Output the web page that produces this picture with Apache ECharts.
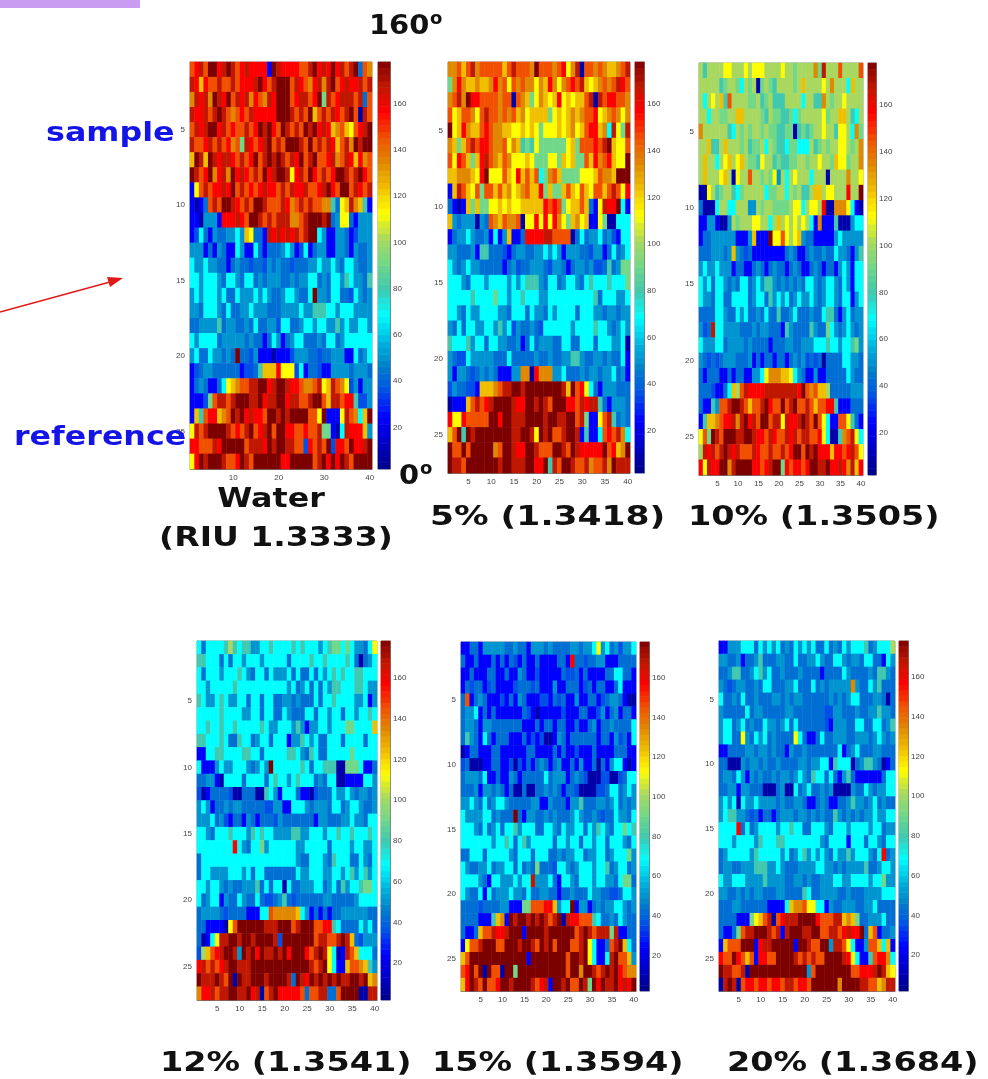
<!DOCTYPE html>
<html>
<head>
<meta charset="utf-8">
<title>Phase maps</title>
<script src="https://cdn.jsdelivr.net/npm/echarts@6/dist/echarts.min.js"></script>
<style>
html,body{margin:0;padding:0;background:#fff;}
#panels,#notes{position:absolute;left:0;top:0;width:988px;height:1079px;}
#panels{filter:blur(0.7px);}
</style>
</head>
<body>
<div id="panels"></div>
<div id="notes"></div>
<script>
// one letter per cell; levels gives its value in degrees
const levels = {N:8,B:24,M:35,S:42,T:50,C:68,U:79,G:90,L:101,Y:112,O:123,A:134,P:145,R:156,D:167,K:178};
const water = [
"PRDPKKRDKD PRDRRRRBKD RRRRPPDKRD RKRDPDKSPA",
"DRORPPDPPD PRRRDKRPDK KKPDRPARDA DKPRDRRDPD",
"ADRDAKDRKP DRDARPADRK KKPRDDPRKG DPRDDDPDSP",
"DRRDPDKDPA PRPDRRRRRK KKDPDPKOPD PDRPDKPNDP",
"PDRDKKRDPR PPDPRKDKRP KDPDPKDKRD ROAPOYPRDK",
"DPPRDPDPRA PGDRPRDKPD PKKKDPKPDP DROPDAKDKK",
"OKDOKDRDDR PDPRKPDKDK DPDRKPDKPP RDAPDRORAP",
"KDPRKARDAK RDRPDPKRDK KDYRDPKRPD PRKKDPDKRP",
"BYPDPRRDRK PDPRPRDRRP DPDRRDPPRD KRPKKPDRPD",
"BNBSPDPKKD RPDPKKDPPP DRAPDPDPPA AUSYODAOUB",
"BBNTTTBRRR DRPKKDPDPD DDAAPDKKKD KSTYYSBTTT",
"BMCSBTSSTT CTOYSSBDRD RDRDPDKKCT BBTTSBMTTT",
"TTTBSBTSBB CTBBCSBSSS TCTBMCBSTT BBTTSBTSST",
"CTTCTTSSBS TSSMSSMTST SSMSSSTTCT TCTSCCTSST",
"CCTCCCTSCC TSCCSTSTTT SSTSTTCCST SCCTUCTTSU",
"TCTCCCTCSS CTTTCTCTSS TCCTSSCKTT SCCSSMCTST",
"TTSCCCTSCS STTCTTTSSS TTTTCTTUUU CCTCCCTTTT",
"SSTTTTUSTT SSTSCSSTTM CCSSTCCTCC TTUTCTTCCT",
"CTCCCCSTTT TTSTSSBSCT BSTCCSSSTS CCSTCCCCCC",
"TCSSCTTSTS KSSMTBBBNB BBMTTTSSMS STTTBBCSTC",
"BMSTTSSSSS SBMMSUOOOR YYYMCBSSMB BTTTTSTTTS",
"BSTSBBSCYO APPDDKKRDK KDRRPAAPDY ODPAYMTBTT",
"BBBMGPDDPD KKKDDKRDDK KRDDPPDKKP ODDPRRUMMT",
"BOUPRROAPK DKRDRRPKKD KDKKKKPPYK BBBYDPACOK",
"YDPDKKKKDP RPDKPRDKPK KRRPPRPPDG GBNCDRRROT",
"RRPPPDRKKK KKPDDDRKDK KDDPPMRPDP KMRRPKRRDK",
"YRKDKKKDPP RKDPKKKKKK RRKKKKKPDK RKRKDPKKKK"
];
const pct5 = [
"AAPOPDAPPP PPOPDPPPAK PPPAPRYADN PPAPAOOAPD",
"GARAOOAOOA RAPYPAPAAY AORAYAPRPD OYOAPAPDRP",
"APDAKRRPPP PAPPNPAOGY AOYORYOYOO PDNDPRRPPA",
"PYOPPAYPDP PAPAPOAYOO OOGYOYOAOA PPRYOAPAYA",
"KYORAOOPRP AAOOYYOYOY GYYYOYOAYO PRROACDYGD",
"AOGOPDPRRP AAPYAOUGUY GGGGGGYOGP PPRPDKOYYP",
"PYRPOGORDP AOPAYYYOYG GGYYGOYOGG PORAPROYYK",
"OOAAAOYRKY YYPOYROPOP CGAPOGGGGY YYOPAAOKKK",
"BODPOYPGPP OPOAYOAPOO RGOGGOPOYP OYPPOPDPYR",
"SBNBOGOGGY YOYOYYOOOO ORPRPGYOOP OSBYDRRKCB",
"OTSTTTNTSP AOPAAPNYYR YRYRAYGOAY OBBYGNNCCC",
"BSTTCTSSTB CBTOBBSRRR RDDPPPPNSC STTCSTMBCC",
"TTSSSTBUUS SSMBSTTSST TCTCTBTTTS SMTTBSCSTC",
"CTSTCTTSSS SSBSTMSSTT TSMTTSBSTT STMMSUSTGG",
"CCCTSCCCTC CCCTCTCUUU TSCCSTCCTS CUCCCUCCCG",
"CCCCCUCCCC GCCTCCUCCC TTCCCCCCCC CCUSCCCTTC",
"CCTSCTTCCC CTTSCCCSCT TSCTCCCCSC CCTTSTTSTT",
"TSCSCCTTCC TUTCMTSSTS MCCCCCCTCC CCUCCTSTCT",
"UCCCUTCCSC CTTSSTBSCS TTTSSCCSSC CCSCCCTTCN",
"TSMMCTTTTT SSSCSSSSST SSTSSTTUUT SSTTSTSSCB",
"TBTTSMSTST SBBBTTAANR AAATTCSSST STTSTTCSTB",
"MTSSMMBOOO APDDKKDKKK KKKKKDOKPR YCSBTTTSSS",
"NBBBOPDPRD KKKKDRRKKD KDPKKKRRPD RDDUSBTTTS",
"RYYRPPPPPK KRKKDDDKKK KDKKDDKKPD GBBYPDUSTS",
"OPKUKDKKKK KKKKDDKKDY KDKPPDKKDB UBBCPRPDAC",
"KPPKPKKKKK APKKDRRKKD PPPKKDPKDR RRRRKPROAK",
"KDDPKKKKKK KDKKDDDKKR RKUDPKKDPP DAPPDAKDDD"
];
const pct10 = [
"LULLLLYYLL LYLYYYLLLL YLLGLLLLAG DLLLPLLLLP",
"LLLLLUGLLG CLGLNGLGUL LLLGLOLLLL YLALLLCOLL",
"LCLYLOUPLL LLGGLUGLUU ULLLLCLLUU ALGLLYLLLL",
"LLCLLGGLLO OLLLLGULGG UUGCGLLLLL YGLLOOLUCL",
"ALLLLLLUCL GLGLLGLGGU UGGNUGUGLL YLLUYYLCAG",
"LLOUULOLLL GLUGGLCLGU UCGGCCCLUG LGLLYYLGLA",
"LOLLCLYOLY OLGGUYLLUG UUGGLLGLLY LLGOYYGLLA",
"LOLLLYOLNY LLPLLGLGYT LCLYLLLCLL LNLLLLALLY",
"NNYLUGLLUC GLLLLLCGGL LCLGLUULOO LYYLLLRLLK",
"SNNNCLLCCL LLTTLGLLGG GGLYYCLYYL RNNAAAYCBN",
"BBTTBNNTLG LLLYYLLCLO LYLYLYLCBA BBBUNNNTCC",
"BSSTTTTTTB BBTOBBBKYY PYLYOTSSBB BBBTCTTTTT",
"SSSTTTSTOT SMSBBBBBBB BSTSBBSTSS TSSCTTSBTU",
"TCTTCTTTBS SBBSTSBSTS SBSTSBBSTS BSSBTCTBCC",
"CTCSCCTSTS CCSTCTUUTS TSTSTSCCTS TCCTSCTBCC",
"CTTSCCSSCC CCSTCCSUTC TCSTCTTCTS TCCTSCCBTC",
"SSSSCCTSSC TCSSTSCSSU SSTCSSSTSS CUUSBTCSTT",
"TMSDCCTTTT SSSTSTTSSS BUTSSSSUTS SGCTSTCTST",
"CTTTCCSTTT TSTSSSSBSS STTSSTTTCC CUCCTCCUGT",
"TSMSMSTTTS SSTBSBSSBS SBSTSTMSMS NSSSSCCTTS",
"SBSSSBBSBS SBBTTCYAAA OOYCTSBBTB BSSSSSCTSS",
"SSSMBBSCOL PDRRRRDDDD DDDDRKPAPO OLSSSSSTTT",
"SBBUTPPDKK DPOPPDKRPP KPDKPPDPOP PRRUBBBSSS",
"BUOOAPRRDA DKRDPKKPDD YDRRDKDPKP YCBBPPYUSB",
"YPGKDPKKKD DKKDRRPDRP PDRDPDDPPR YCNNUAPDYC",
"LDRDPDKDRD PPPDRPPDPP DPRKKPKDKR RRORRPRDPY",
"RYDRRKKADK KKKRRPRDKK GRPRRPRKKD DKRRDRADOR"
];
const pct12 = [
"CSCCCCULUC UUTTCCUCCC CUCUCCCTCU GGCGCTTSCY",
"UUCCCSCSCC TCCCTCCCCC SCCCCUCCUC CCCUCSNSTC",
"CSCCCTCCCU CTSCCSCTTT CSCSSCSCTC UCUCCUUCCC",
"CCTCCCCCUC CCCCCCCCCC TCSTCSCSCT UUCCCUUCTT",
"UCTTCUCTTC CSCCSCCSST TSTSSSCSCC UCCCCTTCBT",
"CCCCCUCCCC TTCCSCCSSC TSSSCCSCCT CCSCCTCCUC",
"CCUCCUCCUC CCCCUCTTCC CTUTBTTCCT CCCGGCCCCO",
"UUCCCUCSSU CCSTCCSCCC BTTUCTCSSC CCSCCCCSCC",
"BBCCUUCCCC UUCCSCCCCC UUCTSUCSSC CCCCGCCCCC",
"CBBBTCTTCC CTSTCTKCCC CCCUCSCCUU UNNGGGCBBS",
"SSTTBNCCCC SCCCCSCUCC TCUCCCSTSC CNNBBBBCCT",
"MNBSSSSMNN SSSNNUCTBC CCSBBNMSSS CTTCTSTTST",
"TCTBSSTSTT SSSSSMMTTB BCCCTSTTTS CCSTCCTSST",
"TTTCSTMBSS BTSBSSSMTS SSSSSSBTTS SSTTCTTSCC",
"CCTSCCCUCC CTUCUCCTTT TUUTTCCCTC CUCCUCCCUC",
"CCCCCCCCRC TSCCGTCCCC CCTTCCCCCS CCCCTCCTTC",
"SCCCCCCCCC CCCCCCCCCC CCTSSCCCTS UCCCSSCTSC",
"SCCTTTTCCC TCSCCSSSSS SSCTTCCCTT CCTCUTCUTC",
"CCTCCTSTSS TTTUSCSCCN CSSTTTCCST CSUTCCUGGC",
"CSTCCBTSSC TSSCSMMSTU SMSSSSSSTT SSSSSTCCCC",
"STTTTSMSSS SBBBCCPAAA AAOCTBSBSB SSTTTTTTSS",
"SSBBBBNYPK KKKKKDDDKK KPDKKKPPRR UCSSSSCTCS",
"SNBCYDDKKD KKDKKKKDMK KKKKKKPDDP PDKDOSMTTT",
"MLOPRDKKDT KDKRKDDKDK RKKKRPDKDY CNBDPOCCCS",
"RDPDPRDKKD DDKKKKKKKK KKKKKDPDKY CBBOPPAOUT",
"KDDDKDPKNK DDKKKDKKKK DSKDRKDKDK DKDDKKDKOA",
"ARRDPDDKKD DKRDNPDKRR RRRPSPPDDS SPKKKKNNDD"
];
const pct15 = [
"BBSSBTTTTT SSTSSBTTTS TSSSSTTSTT CYTCSTMTTC",
"SBBSBBBSBS BSMBSBBSBB BBSSBRSSMS STTBBBSSSS",
"BBSBBBSSBB SBBTSBBMBB BBBSMMSBSB BBBSSCCSSB",
"BSMSSBMSBB BBMSSSMSBB BTBBSSSBMS BSSBBSCBBB",
"SPBSTSBBBM BSBTSBBBMM BSMSBBTBBS SBMSTTSBNN",
"STTCBSBSBB BBBBSMBNBB BBBMBBBSSB BMTBSTBSSB",
"STTSBTTSSS SSSSBBBSBS SBSSBBSBBS TBSSTSSSSC",
"SUTSBCSBSS SBBBSBMBMN NBTSBSSSSS SBSSBTMSBC",
"NBSSBBBSSB BBBBBSSBBB BSBSBBMBBB SBBBBSSSBB",
"MSNNNBBSSB BMNMBSBSTS BSTBBSBTBB SNSBTCCBNB",
"STTTSCBBSB BTSBSSSSSC STTTBSTSMN NNMMNNMSCC",
"SSSTBTTSTS BSNNSNNSST STSBSSMNNN NMMSCCSTCT",
"TTCTSCSTCC TSSSSSTTBB TSSSBTTUSS STTSTCSTST",
"CTTTTCCSTS SSKSBTTSST STSSSTCTSS TSMSSCTTSC",
"CCCTSCSTCS CCUTCCCSSC CTSCTTCCSC TUCTSCCGCU",
"CCCCCCCTCC UCSCUTCCCC CSCCTCCSCC TCCSCCCTSC",
"SSCCCSCCCC CTSCCCSCCC SSTSTTCCST TCCSTCCCGT",
"CTSSTTCSTT CCSCSTSGSS SMCCTSTCCC TCCUSTCCST",
"CCCCTSBCCT TTCTCCDTTT CSBCCTSCCC TCCTTSCGGS",
"CTSSCBCSTT TCTTSCSSTT SSBSSTSSSC TTSSMMSCCT",
"SSSSMSSSST TBBBGGPPPR ROTCCKBTTB STSTTCCTST",
"SSSSBBBUOA BKDKKDKDKD PDKNDRRPPP UCSSTSCTSS",
"SBBSOPPDRR DKKKBKKKKD KKKKKKPDKD PDDDGDBBSS",
"BYPPDKKKPP KKKDKKDPKD KPKKKPPDKY CBBSPDKOCS",
"OPKKKKKKKK KKKKKBKKKK KKKKPKKDKY CBBCDKPPOT",
"PRKPKNKPPN KKGKKKKKKK KKKKPKKAKK DPDKDKRPAA",
"ORKDPKPPRK KDKKKKDPRD BKKDKPPKDG KRKDDKRDRK"
];
const pct20 = [
"BBTTTCCCSC TCTCSTSCTC TCSSCSTSCT CCCUSTCCCL",
"TTSSTBSSTU SSSTTSSCSS TTCTSSCCTS TTSCCSSBCT",
"SSTUUSSTCU TCSSTSSSTS SSSBSSSSCT SSSSTSUUTS",
"TSMSTTSSTS CCSSSTTCSS SCSTSTTTTT ATSSCTUSSS",
"CSSTSCSSTS SSTTSTSTTS SSSSSTSTST CCSSSTTSNS",
"TSSSSSCSTT SSSSSTTSSS SSSSMMTTSS STSSTTUTTS",
"TCCSTCSTSS CTTSTCSCSS SSSSMBTTTS SCCSSCCSTU",
"TCCSSYTSCT CSTSSSSYCS BBSCSSTTTS STTTSTCTST",
"BBSSSSTTST TSTSSBTSST SSSSSSSCBS TCSSSTTSSS",
"SSNNNTSTTS TSSTSSSSTT STTCCBUCCC NSTUUTSNBS",
"STTSCTBTST SSTSTTSTCT SUCCSCSBTU SBBBBBBSCC",
"SSTTBTTSSS NNNSTNNCST CSSTSTNNNN TSSCTSTTCC",
"TCTCNCTTCT TTTSTSSTTS BBSTSBBSST UTTSTCSTSS",
"TCUUTTSMSB SSBSTTTSTT STSTSSUTST STSTTCTTCC",
"CCCCRSCSTC CCCTCCUCCS SCCCTSCCCT CCCCTCCSTT",
"CCCTCCCCTU CCCUUCCCCC CCCTSCCCCB CCCSCCTSCC",
"STCCCCCTUC CCCCTCSTCU TCTCTSCTTU TCCCTSCRST",
"STTSSTTTUU UTTCTSSSTT TTCCTTSTST TTTUSSTCCT",
"CTTCCCTTTT UTTTTSSTTS TSSTTTCCTT CCCCTCCGTT",
"TTSSTSTSTT SSSTTSSSSU CSSTTTTSST SSSTTTTCCC",
"SSSTTSSSSS SBBBBCOAAP YYCCBTSSTT TSSTTCSSSS",
"SSSSBBBGYO PDNPRDDDKK KKRPPPDDOA OGSSTTTCSS",
"SBBSGPDDKK KDPDBDKKKD DKKPPDDPRD RRKSOPBSST",
"BOPPPKKKBR DDKKKKKBKK DPPKKTDDPY CBBTPPOCOB",
"RPPKRPOPBR RPPKKKKDPD PDPPKKKKDR YCBBUPRRAC",
"KDDPPDNKKK KKKKKKKKKK TPKKKKKKKK PPRRRDKDOY",
"NDKDNPRRPR RPRRPDDPRR PKKKKKKAKK KKDDPPOADD"
];
const colorbarLevels = [3,6,8,11,14,17,19,22,25,28,30,33,36,39,41,44,47,50,52,55,58,61,63,66,69,72,74,77,80,83,85,88,91,94,96,99,102,105,107,110,113,116,118,121,124,127,129,132,135,138,140,143,146,149,151,154,157,160,162,165,168,171,173,176];
const colorbarTicks = [20,40,60,80,100,120,140,160];
const jetStops = ['#000088','#0000c8','#0000ff','#0050e8','#0080c8','#00b8e0','#00ffff','#40c8b0','#70d888','#a8d860','#ffff00','#f0c000','#e08800','#f05000','#ff0000','#c01800','#7c0000'];

const xCategories = Array.from({length:40},(_,i)=>i+1);
const yCategories = Array.from({length:27},(_,i)=>i+1);

const panels = [
 {rows:water, x:190,y:62, w:182,h:407,cb:378,cbw:12,xStep:10,font:8},
 {rows:pct5,  x:448,y:62, w:182,h:411,cb:635,cbw:9, xStep:5, font:8},
 {rows:pct10, x:699,y:63, w:164,h:412,cb:868,cbw:8, xStep:5, font:8},
 {rows:pct12, x:197,y:641,w:180,h:359,cb:381,cbw:9, xStep:5, font:8},
 {rows:pct15, x:461,y:642,w:175,h:349,cb:640,cbw:9, xStep:5, font:8},
 {rows:pct20, x:719,y:641,w:176,h:350,cb:899,cbw:9, xStep:5, font:8}
];

const grid=[], xAxis=[], yAxis=[], series=[];
const axisGrey='#777', labelGrey='#444';
panels.forEach(p=>{
  const g=grid.length, xi=xAxis.length, yi=yAxis.length;
  grid.push({left:p.x,top:p.y,width:p.w,height:p.h,show:true,borderColor:'#999',borderWidth:1,backgroundColor:'transparent'});
  xAxis.push({type:'category',gridIndex:g,data:xCategories,
    axisLine:{show:true,lineStyle:{color:axisGrey}},
    axisTick:{show:true,inside:true,length:2,alignWithLabel:true,lineStyle:{color:'#333'},interval:i=>(i+1)%p.xStep===0},
    axisLabel:{fontFamily:'Liberation Sans',fontSize:p.font,color:labelGrey,margin:5,hideOverlap:false,interval:i=>(i+1)%p.xStep===0},
    splitLine:{show:false}});
  yAxis.push({type:'category',gridIndex:g,inverse:true,data:yCategories,
    axisLine:{show:true,lineStyle:{color:axisGrey}},
    axisTick:{show:true,inside:true,length:2,alignWithLabel:true,lineStyle:{color:'#333'},interval:i=>(i+1)%5===0},
    axisLabel:{fontFamily:'Liberation Sans',fontSize:p.font,color:labelGrey,margin:5,interval:i=>(i+1)%5===0},
    splitLine:{show:false}});
  const cells=[];
  p.rows.forEach((r,ry)=>{ r.replace(/ /g,'').split('').forEach((c,cx)=>cells.push([cx,ry,levels[c]])); });
  series.push({type:'heatmap',xAxisIndex:xi,yAxisIndex:yi,data:cells,progressive:0,animation:false,silent:true,emphasis:{disabled:true}});

  // colour bar
  const gb=grid.length, xb=xAxis.length, yb=yAxis.length;
  grid.push({left:p.cb,top:p.y,width:p.cbw,height:p.h,show:true,borderColor:'#999',borderWidth:1,backgroundColor:'transparent'});
  xAxis.push({type:'category',gridIndex:gb,data:['c'],show:false});
  yAxis.push({type:'category',gridIndex:gb,data:colorbarLevels,show:false});
  yAxis.push({type:'value',gridIndex:gb,min:2,max:178,position:'right',
    axisLine:{show:true,lineStyle:{color:axisGrey}},
    axisTick:{show:true,inside:true,length:p.cbw,customValues:colorbarTicks,lineStyle:{color:'#333'}},
    axisLabel:{fontFamily:'Liberation Sans',fontSize:p.font,color:labelGrey,margin:3,customValues:colorbarTicks},
    splitLine:{show:false}});
  series.push({type:'heatmap',xAxisIndex:xb,yAxisIndex:yb,data:colorbarLevels.map((v,i)=>[0,i,v]),progressive:0,animation:false,silent:true,emphasis:{disabled:true}});
});

const chart=echarts.init(document.getElementById('panels'),null,{renderer:'canvas',width:988,height:1079});
chart.setOption({
  animation:false,backgroundColor:'#fff',
  grid,xAxis,yAxis,series,
  visualMap:{type:'continuous',show:false,min:2,max:178,seriesIndex:series.map((s,i)=>i),inRange:{color:jetStops}}
});

// annotations
const bold={fontFamily:'DejaVu Sans',fontWeight:'bold',fontSize:27,fill:'#111'};
const blue=Object.assign({},bold,{fill:'#1414e6'});
function label(text,x,y,style,align,sx){return {type:'text',x:x,y:y,scaleX:sx,style:Object.assign({},style,{text:text,textAlign:align||'left',textVerticalAlign:'middle'})};}
const notes=echarts.init(document.getElementById('notes'),null,{renderer:'canvas',width:988,height:1079});
notes.setOption({
  animation:false,backgroundColor:'transparent',
  graphic:[
    {type:'rect',shape:{x:0,y:0,width:140,height:8},style:{fill:'#c99cf2'}},
    {type:'line',shape:{x1:0,y1:312,x2:110,y2:282},style:{stroke:'#e01818',lineWidth:1.5}},
    {type:'polygon',shape:{points:[[123,278],[107,277],[110,287]]},style:{fill:'#e01818'}},
    label('160',369,27,bold,'left',1.07),
    {type:'text',x:430,y:19,style:Object.assign({},bold,{text:'o',fontSize:18,textVerticalAlign:'middle'})},
    label('0',399,477,bold,'left',1.07),
    {type:'text',x:420,y:469,style:Object.assign({},bold,{text:'o',fontSize:18,textVerticalAlign:'middle'})},
    label('sample',46,134,blue,'left',1.176),
    label('reference',14,438,blue,'left',1.172),
    label('Water',271,500,bold,'center',1.176),
    label('(RIU 1.3333)',276,539,bold,'center',1.224),
    label('5% (1.3418)',430,518,bold,'left',1.278),
    label('10% (1.3505)',688,518,bold,'left',1.24),
    label('12% (1.3541)',160,1064,bold,'left',1.24),
    label('15% (1.3594)',432,1064,bold,'left',1.24),
    label('20% (1.3684)',727,1064,bold,'left',1.24)
  ]
});
</script>
</body>
</html>
